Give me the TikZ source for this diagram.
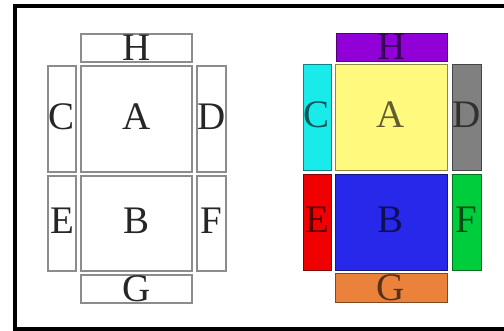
\documentclass[tikz,border=0pt]{standalone}
\usepackage{fontspec}
\setmainfont{Liberation Serif}
\definecolor{cH}{RGB}{145,0,215}
\definecolor{cC}{RGB}{25,235,235}
\definecolor{cA}{RGB}{255,250,125}
\definecolor{cD}{RGB}{128,128,128}
\definecolor{cE}{RGB}{240,0,0}
\definecolor{cB}{RGB}{40,40,235}
\definecolor{cF}{RGB}{0,205,60}
\definecolor{cG}{RGB}{235,130,60}
\tikzset{
  lbox/.style={draw=black!45, line width=1.1pt, inner sep=0pt, outer sep=0pt,
    text=black!85, font=\fontsize{39}{39}\selectfont},
  cbox/.style={fill=#1, draw=#1!55!black, line width=0.9pt, inner sep=0pt, outer sep=0pt,
    text=#1!38!black, font=\fontsize{39}{39}\selectfont},
}
\newcommand{\up}[1]{\raisebox{5pt}{#1}}
\begin{document}
\begin{tikzpicture}[x=1pt,y=-1pt]
\useasboundingbox (0,0) rectangle (504,331);
\begin{scope}
\clip (0,0) rectangle (504,331);
\fill[white] (0,0) rectangle (504,331);
\draw[black, line width=4pt] (520,6) -- (15,6) -- (15,329.5) -- (520,329.5);
\end{scope}
% left diagram
\node[lbox, minimum width=111pt, minimum height=28pt] (lH) at (136.5,48) {H};
\node[lbox, minimum width=28pt, minimum height=106pt] (lC) at (62,119) {\up{C}};
\node[lbox, minimum width=111pt, minimum height=106pt] (lA) at (136.5,119) {\up{A}};
\node[lbox, minimum width=29pt, minimum height=106pt] (lD) at (211.5,119) {\up{D}};
\node[lbox, minimum width=28pt, minimum height=95pt] (lE) at (62,223.5) {\up{E}};
\node[lbox, minimum width=111pt, minimum height=95pt] (lB) at (136.5,223.5) {\up{B}};
\node[lbox, minimum width=29pt, minimum height=95pt] (lF) at (211.5,223.5) {\up{F}};
\node[lbox, minimum width=111pt, minimum height=28pt] (lG) at (136.5,289) {G};
% right diagram
\node[cbox=cH, minimum width=111pt, minimum height=28pt] (rH) at (391.5,47) {H};
\node[cbox=cC, minimum width=28pt, minimum height=106pt] (rC) at (317,117) {\up{C}};
\node[cbox=cA, minimum width=112pt, minimum height=106pt] (rA) at (391,117) {\up{A}};
\node[cbox=cD, minimum width=29pt, minimum height=106pt] (rD) at (466.5,117) {\up{D}};
\node[cbox=cE, minimum width=28pt, minimum height=96pt] (rE) at (317,222) {\up{E}};
\node[cbox=cB, minimum width=112pt, minimum height=96pt] (rB) at (391,222) {\up{B}};
\node[cbox=cF, minimum width=29pt, minimum height=96pt] (rF) at (466.5,222) {\up{F}};
\node[cbox=cG, minimum width=112pt, minimum height=29pt] (rG) at (391,287.5) {G};
\end{tikzpicture}
\end{document}
